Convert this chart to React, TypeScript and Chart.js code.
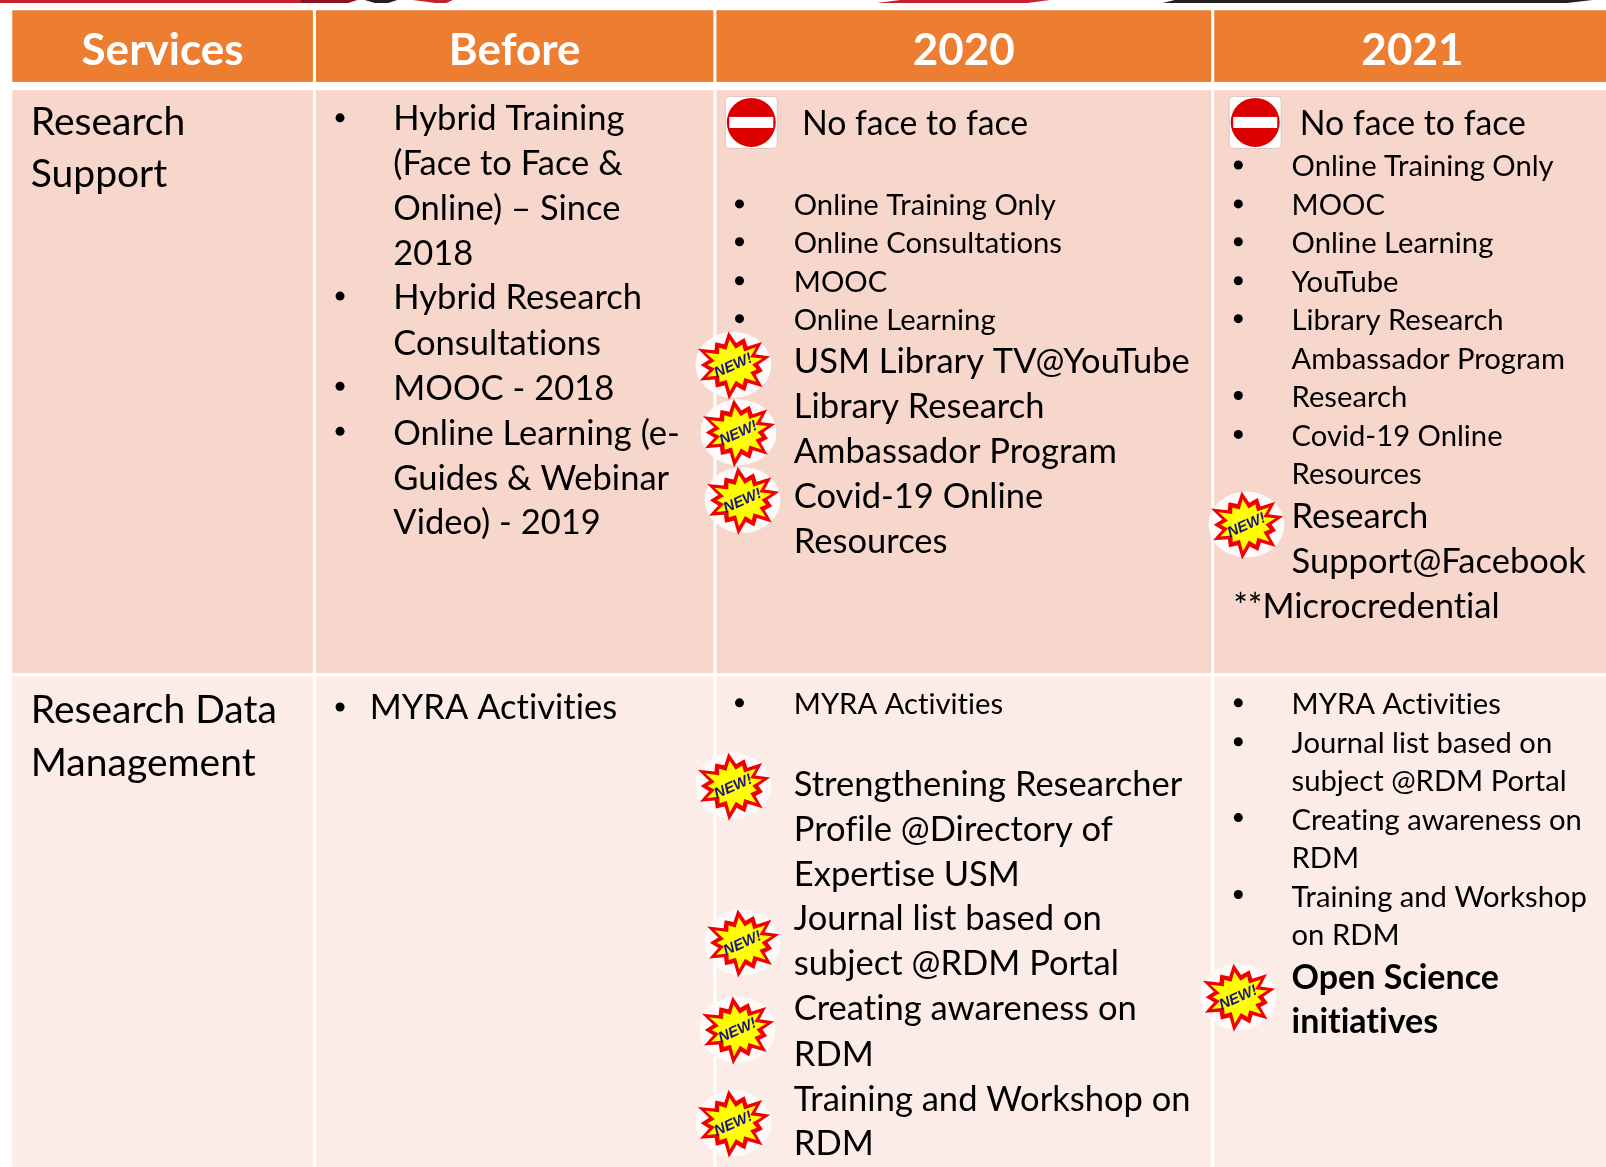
import React, { useEffect, useRef } from "react";
import { Chart, registerables } from "chart.js";

Chart.register(...registerables);

// ---------- content ----------
const headers = ["Services", "Before", "2020", "2021"];
const rowLabels = [["Research", "Support"], ["Research Data", "Management"]];

const beforeSupport = [
  "Hybrid Training", "(Face to Face &", "Online) – Since", "2018",
  "Hybrid Research", "Consultations", "MOOC - 2018", "Online Learning (e-",
  "Guides & Webinar", "Video) - 2019",
];
const noFace = "No face to face";
const y2020SupportSmall = ["Online Training Only", "Online Consultations", "MOOC", "Online Learning"];
const y2020SupportLarge = ["USM Library TV@YouTube", "Library Research", "Ambassador Program", "Covid-19 Online", "Resources"];
const y2021SupportSmall = [
  "Online Training Only", "MOOC", "Online Learning", "YouTube", "Library Research",
  "Ambassador Program", "Research", "Covid-19 Online", "Resources",
];
const y2021SupportLarge = ["Research", "Support@Facebook"];
const microcredential = "**Microcredential";
const beforeData = "MYRA Activities";
const y2020DataSmall = "MYRA Activities";
const y2020DataLarge = [
  "Strengthening Researcher", "Profile @Directory of", "Expertise USM",
  "Journal list based on", "subject @RDM Portal", "Creating awareness on",
  "RDM", "Training and Workshop on", "RDM",
];
const y2021DataSmall = [
  "MYRA Activities", "Journal list based on", "subject @RDM Portal",
  "Creating awareness on", "RDM", "Training and Workshop", "on RDM",
];
const y2021DataBold = ["Open Science", "initiatives"];
const newBadge = "NEW!";

// ---------- layout (in reference units, mapped by the chart's scales) ----------
const colEdges = [[12, 305.5], [308.5, 696.5], [699.5, 1182.5], [1185.5, 1568]];
const headerBand = [10, 80];
const rowBands = [[88, 657], [660, 1139]];

const beforeSupportY = [127, 171, 215, 259, 302, 346, 390, 434, 478, 521];
const y2020SupportSmallY = [210, 247, 285, 322];
const y2020SupportLargeY = [364, 408, 452, 496, 540];
const y2021SupportSmallY = [172, 210, 247, 285, 322, 360, 397, 435, 472];
const y2021SupportLargeY = [515, 559];
const y2020DataLargeY = [777, 821, 865, 908, 952, 996, 1040, 1084, 1127];
const y2021DataSmallY = [697, 735, 772, 810, 847, 885, 922];
const y2021DataBoldY = [965, 1008];

const bulletPoints = [
  ...[115, 289, 377, 421, 690].map((y) => ({ x: 332, y })),
  ...[199, 236, 274, 311, 686].map((y) => ({ x: 722, y })),
  ...[161, 199, 236, 274, 311, 386, 424, 686, 724, 798, 873].map((y) => ({ x: 1209, y })),
];
const badgeCentres = [
  [716, 356], [721, 422], [725, 488], [716, 767], [725, 920], [720, 1005],
  [716, 1096], [1217, 512], [1209, 973],
];
const noEntryCentres = [[733.5, 119.5], [1225.5, 119.5]];

// top-left x, top-right x, bottom-right x, bottom-left x, colour
const stripShapes: [number, number, number, number, string][] = [
  [0, 293, 293, 0, "#C5202F"],
  [293, 349, 340, 293, "#8A1424"],
  [356, 388, 379, 366, "#231F20"],
  [403, 442, 436, 425, "#C5202F"],
  [879, 1025, 1003, 856, "#C5202F"],
  [1147, 1555, 1530, 1135, "#231F20"],
];

const FONT_LARGE = "34.5px Lato";
const FONT_NOFACE = "33.8px Lato";
const FONT_SMALL = "29.2px Lato";
const FONT_LABEL = "39px Lato";
const FONT_BOLD = "bold 34px Lato";
const FONT_HEAD = "bold 44px Lato";

const tablePlugin = {
  id: "table",
  beforeDatasetsDraw(chart: any) {
    const { ctx, scales } = chart;
    const X = (v: number) => scales.x.getPixelForValue(v);
    const Y = (v: number) => scales.y.getPixelForValue(v);
    const rect = (x0: number, x1: number, y0: number, y1: number, c: string) => {
      ctx.fillStyle = c;
      ctx.fillRect(X(x0), Y(y0), X(x1) - X(x0), Y(y1) - Y(y0));
    };
    const text = (s: string, x: number, y: number, font: string, color = "#000", align = "left") => {
      ctx.font = font;
      ctx.letterSpacing = "0.01px";
      ctx.fillStyle = color;
      ctx.textAlign = align;
      ctx.textBaseline = "alphabetic";
      ctx.fillText(s, X(x), Y(y));
    };
    const lines = (arr: string[], ys: number[], x: number, font: string) =>
      arr.forEach((s, i) => text(s, x, ys[i], font));

    ctx.save();
    rect(0, 1568, 0, 1139, "#FFFFFF");
    stripShapes.forEach(([tl, tr, br, bl, c]) => {
      ctx.fillStyle = c;
      ctx.beginPath();
      ctx.moveTo(X(tl), Y(0));
      ctx.lineTo(X(tr), Y(0));
      ctx.lineTo(X(br), Y(3));
      ctx.lineTo(X(bl), Y(3));
      ctx.closePath();
      ctx.fill();
    });
    colEdges.forEach(([a, b], i) => {
      rect(a, b, headerBand[0], headerBand[1], "#ED7D31");
      rect(a, b, rowBands[0][0], rowBands[0][1], "#F7D6CC");
      rect(a, b, rowBands[1][0], rowBands[1][1], "#FBECE8");
      text(headers[i], i === 3 ? 1379 : (a + b) / 2, 63, FONT_HEAD, "#FFFFFF", "center");
    });

    lines(rowLabels[0], [132, 183], 30, FONT_LABEL);
    lines(rowLabels[1], [706, 757], 30, FONT_LABEL);

    lines(beforeSupport, beforeSupportY, 384, FONT_LARGE);
    text(beforeData, 361, 702, FONT_LARGE);

    text(noFace, 783, 132, FONT_NOFACE);
    lines(y2020SupportSmall, y2020SupportSmallY, 775, FONT_SMALL);
    lines(y2020SupportLarge, y2020SupportLargeY, 775, FONT_LARGE);
    text(y2020DataSmall, 775, 697, FONT_SMALL);
    lines(y2020DataLarge, y2020DataLargeY, 775, FONT_LARGE);

    text(noFace, 1269, 132, FONT_NOFACE);
    lines(y2021SupportSmall, y2021SupportSmallY, 1261, FONT_SMALL);
    lines(y2021SupportLarge, y2021SupportLargeY, 1261, FONT_LARGE);
    text(microcredential, 1204, 603, FONT_LARGE);
    lines(y2021DataSmall, y2021DataSmallY, 1261, FONT_SMALL);
    lines(y2021DataBold, y2021DataBoldY, 1261, FONT_BOLD);
    ctx.restore();
  },
  afterDatasetsDraw(chart: any) {
    const { ctx, scales } = chart;
    const X = (v: number) => scales.x.getPixelForValue(v);
    const Y = (v: number) => scales.y.getPixelForValue(v);
    ctx.save();
    noEntryCentres.forEach(([cx, cy]) => {
      const px = X(cx), py = Y(cy);
      ctx.fillStyle = "#FFFFFF";
      ctx.strokeStyle = "#D9C7C2";
      ctx.lineWidth = 1;
      ctx.beginPath();
      ctx.roundRect(px - 26, py - 26, 52, 52, 4);
      ctx.fill();
      ctx.stroke();
      ctx.fillStyle = "#DD0000";
      ctx.beginPath();
      ctx.arc(px, py, 24.5, 0, Math.PI * 2);
      ctx.fill();
      ctx.fillStyle = "#FFFFFF";
      ctx.fillRect(px - 22, py - 5.5, 44, 11);
    });
    const burst = (px: number, py: number, rOut: number, rIn: number, sy: number, fill: string) => {
      const spikes = [1, 0.8, 1.02, 0.85, 1.05, 0.82, 1, 0.86, 1.05, 0.82, 1, 0.85, 1.02];
      const n = spikes.length;
      ctx.beginPath();
      for (let i = 0; i < n; i++) {
        const a0 = (i / n) * Math.PI * 2 - 0.25;
        const a1 = ((i + 0.5) / n) * Math.PI * 2 - 0.25;
        const r0 = rOut * spikes[i];
        const xo = px + Math.cos(a0) * r0;
        const yo = py + Math.sin(a0) * r0 * sy;
        const xi = px + Math.cos(a1) * rIn;
        const yi = py + Math.sin(a1) * rIn * sy;
        if (i === 0) ctx.moveTo(xo, yo);
        else ctx.lineTo(xo, yo);
        ctx.lineTo(xi, yi);
      }
      ctx.closePath();
      ctx.fillStyle = fill;
      ctx.fill();
    };
    badgeCentres.forEach(([cx, cy]) => {
      const px = X(cx), py = Y(cy);
      ctx.fillStyle = "#FDFAF9";
      ctx.beginPath();
      ctx.ellipse(px, py, 38, 33, 0, 0, Math.PI * 2);
      ctx.fill();
      burst(px, py, 38, 25, 0.88, "#F00000");
      burst(px, py, 30, 19, 0.85, "#FFFF00");
      ctx.save();
      ctx.translate(px, py + 1);
      ctx.rotate(-0.42);
      ctx.fillStyle = "#1E1478";
      ctx.font = "italic bold 15px 'Liberation Sans'";
      ctx.textAlign = "center";
      ctx.textBaseline = "middle";
      ctx.fillText(newBadge, 0, 0);
      ctx.restore();
    });
    ctx.restore();
  },
};

export default function App() {
  const ref = useRef<HTMLCanvasElement>(null);
  useEffect(() => {
    const chart = new Chart(ref.current!, {
      type: "scatter",
      data: {
        datasets: [
          {
            data: bulletPoints,
            pointStyle: "circle",
            pointRadius: 4.5,
            pointHoverRadius: 4.5,
            backgroundColor: "#000000",
            borderWidth: 0,
          },
        ],
      },
      options: {
        animation: false,
        responsive: false,
        layout: { padding: 0, autoPadding: false },
        plugins: { legend: { display: false }, tooltip: { enabled: false }, title: { display: false } },
        scales: {
          x: { type: "linear", min: 0, max: 1568, display: false },
          y: { type: "linear", min: 0, max: 1139, reverse: true, display: false },
        },
      },
      plugins: [tablePlugin],
    } as any);
    return () => chart.destroy();
  }, []);
  return (
    <div style={{ position: "fixed", left: 0, top: 0, width: 1606, height: 1167, overflow: "hidden", background: "#fff" }}>
      <canvas ref={ref} width={1606} height={1167} style={{ display: "block" }} />
    </div>
  );
}
